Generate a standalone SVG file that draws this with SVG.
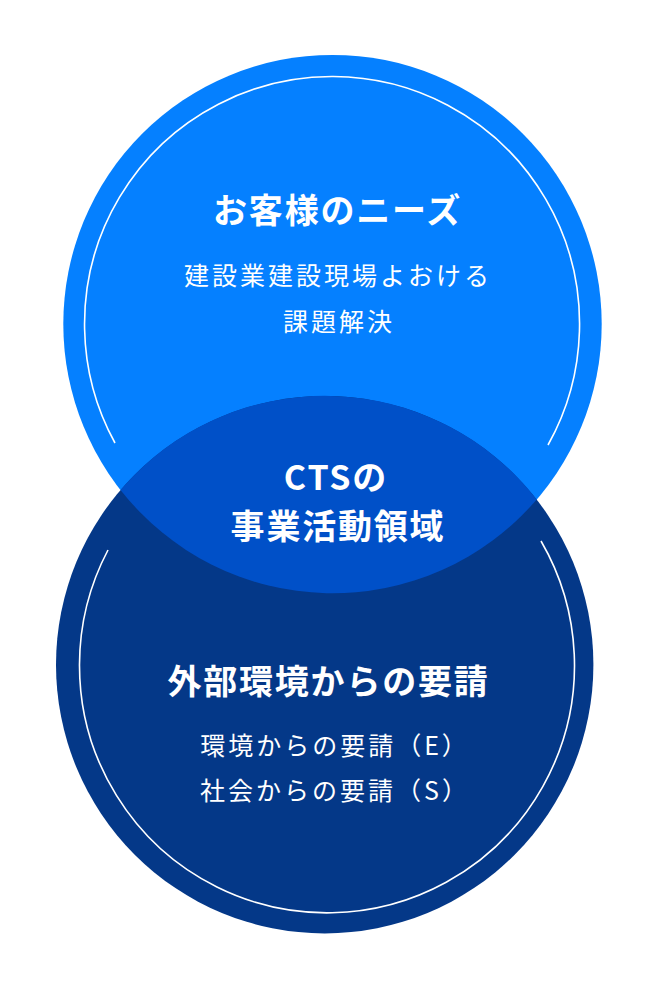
<svg xmlns="http://www.w3.org/2000/svg" width="657" height="997" viewBox="0 0 657 997">
  <style>
    .t { font-family: "Noto Sans CJK JP", "Noto Sans", sans-serif; fill: #ffffff; text-anchor: middle; }
    .title { font-size: 34px; font-weight: 700; letter-spacing: 1.8px; }
    .sub { font-size: 25px; font-weight: 400; letter-spacing: 3px; }
    .ring { fill: none; stroke: #ffffff; stroke-width: 1.6; }
  </style>
  <rect width="657" height="997" fill="#ffffff"/>
  <g id="needs">
    <circle cx="332.5" cy="324.1" r="269.2" fill="#0580FF"/>
  </g>
  <g id="requests">
    <circle cx="324.7" cy="664.7" r="268.7" fill="#043888"/>
  </g>
  <g id="cts">
    <path d="M120.5 489.9 A268.7 268.7 0 0 1 536.7 499.5 A269.2 269.2 0 0 1 120.5 489.9 Z" fill="#0050C8"/>
  </g>
  <g id="rings">
    <path class="ring" d="M115 443 A247.5 247.5 0 1 1 548 445"/>
    <path class="ring" d="M541 541 A247.5 247.5 0 1 1 108 550"/>
  </g>
  <g id="connectors"/>
  <g id="needs-text">
    <text class="t title" x="337.5" y="223">お客様のニーズ</text>
    <text class="t sub" x="338" y="285">建設業建設現場よおける</text>
    <text class="t sub" x="339" y="330.5">課題解決</text>
  </g>
  <g id="cts-text">
    <text class="t title" x="336" y="489.5">CTSの</text>
    <text class="t title" x="338" y="538.5">事業活動領域</text>
  </g>
  <g id="requests-text">
    <text class="t title" x="328.5" y="693.5">外部環境からの要請</text>
    <text class="t sub" x="335" y="754.6">環境からの要請（E）</text>
    <text class="t sub" x="335" y="799.6">社会からの要請（S）</text>
  </g>
</svg>
